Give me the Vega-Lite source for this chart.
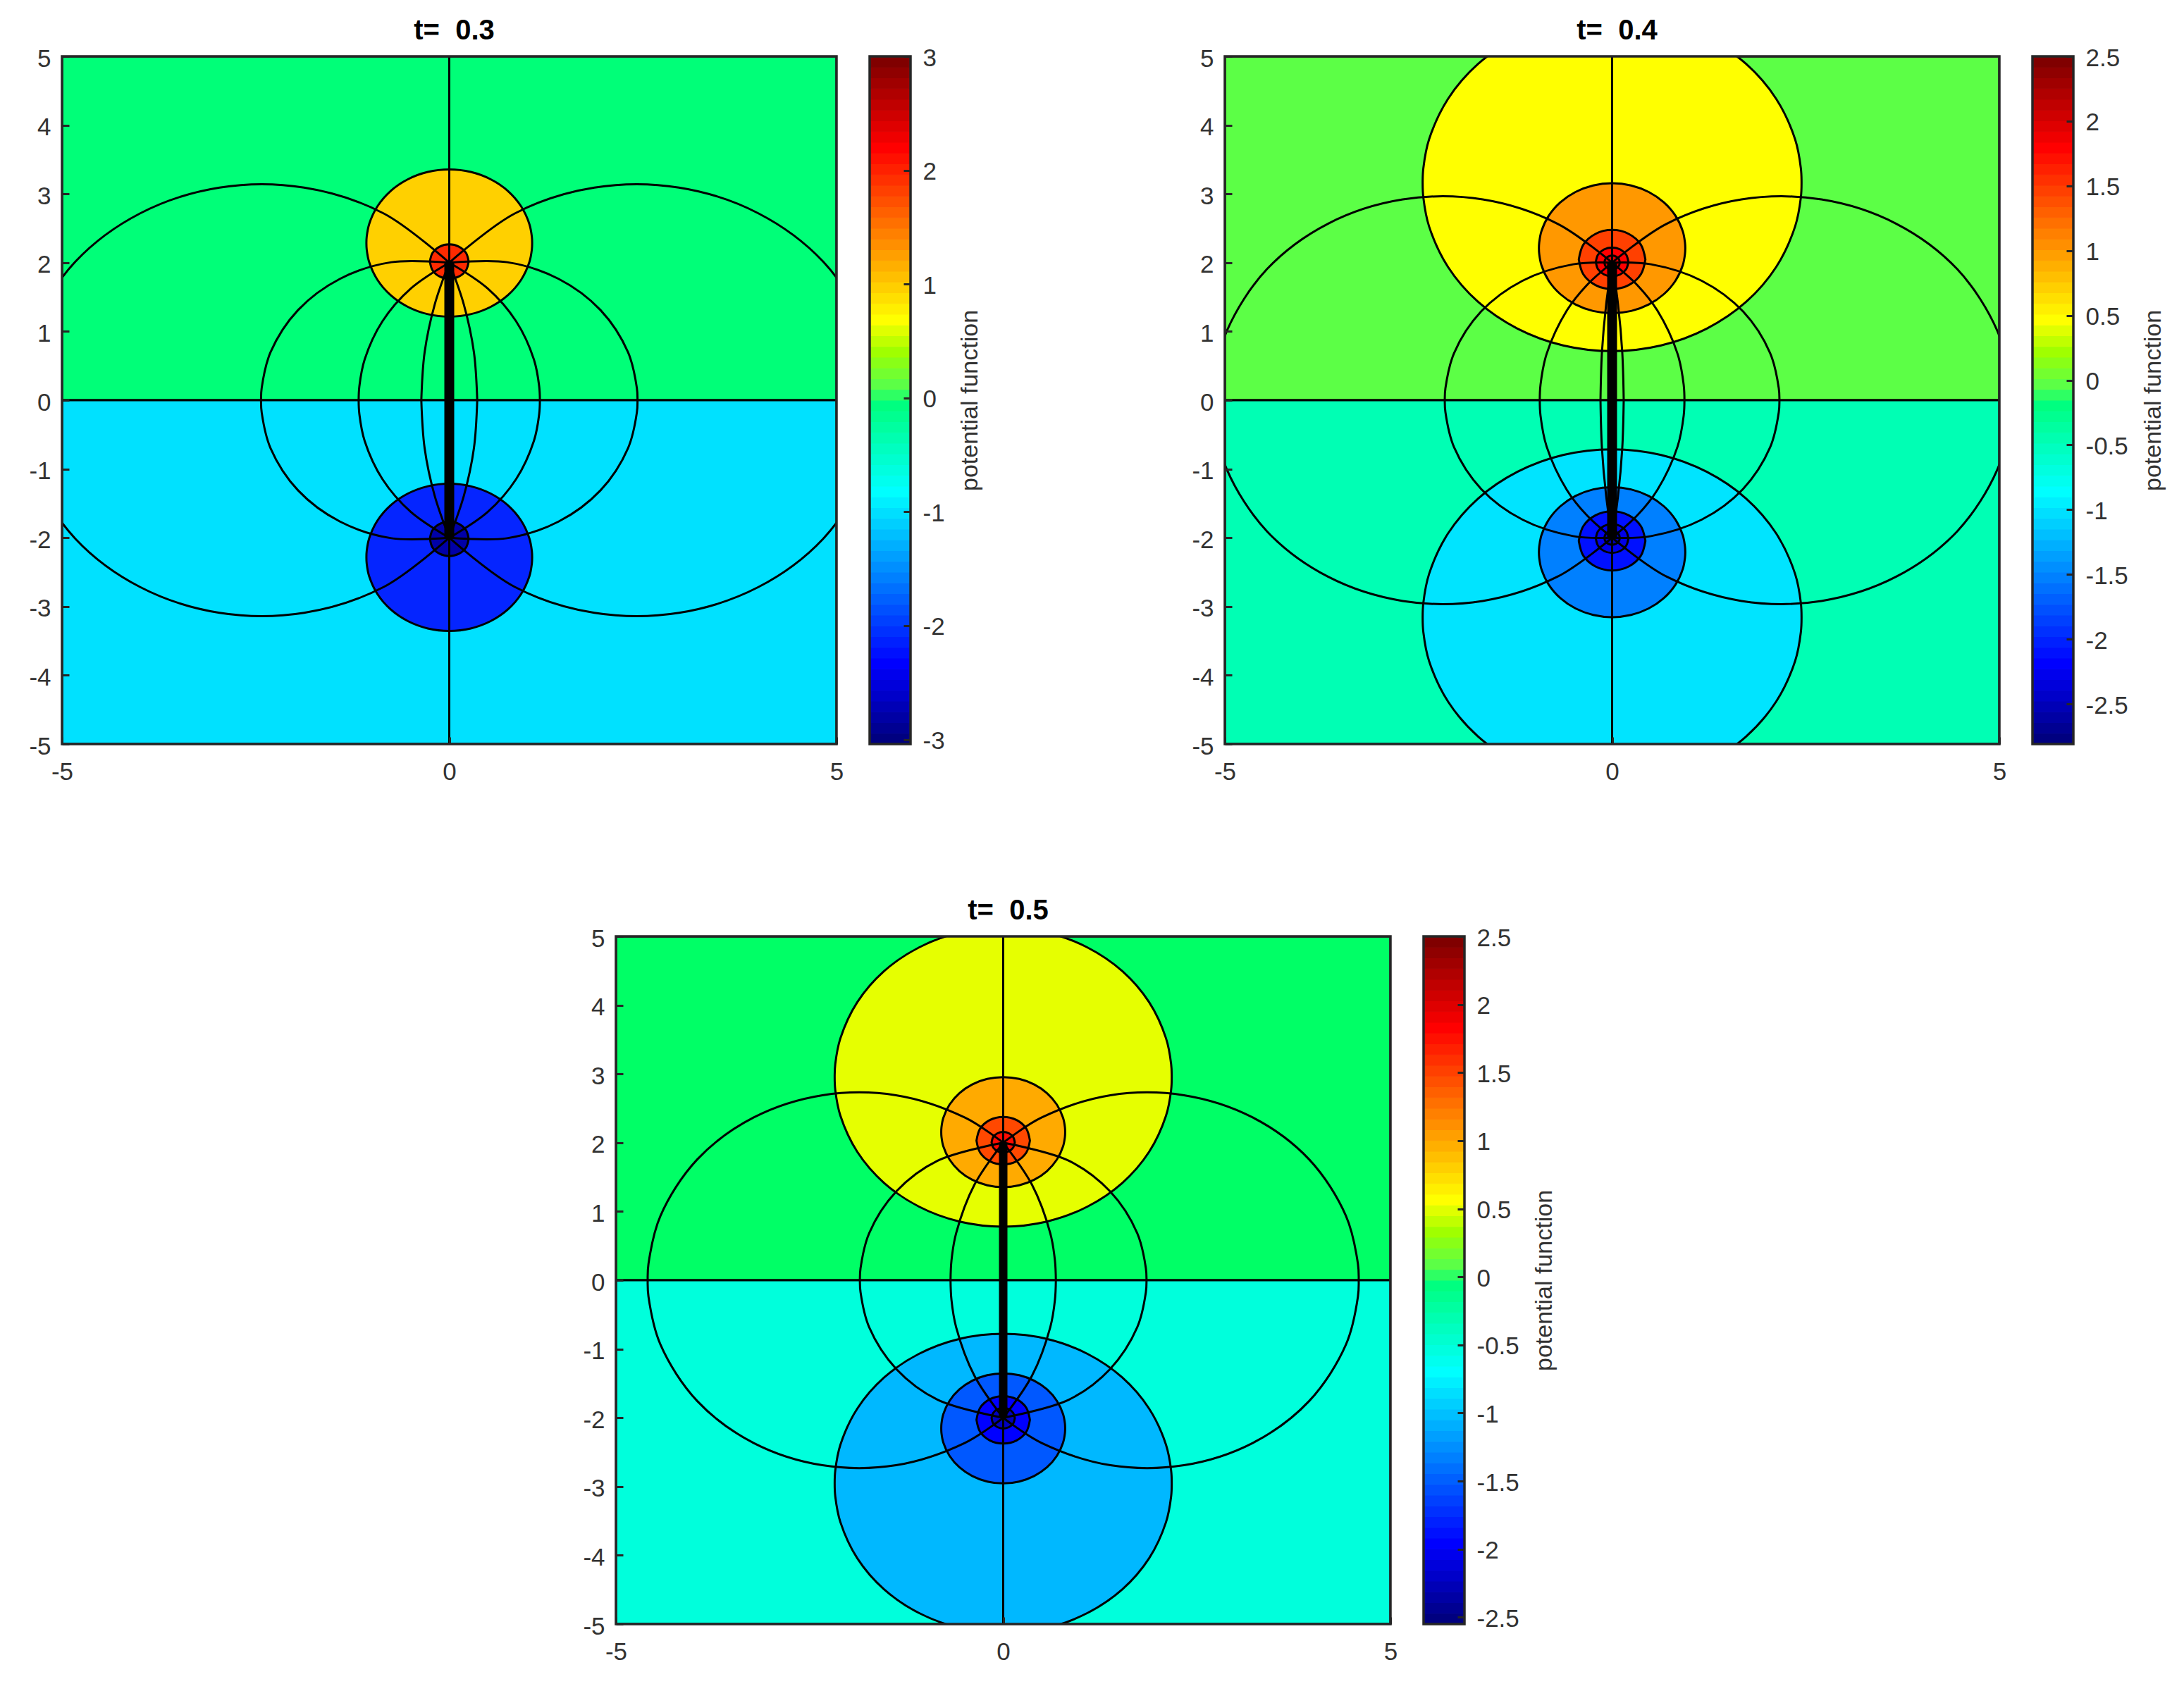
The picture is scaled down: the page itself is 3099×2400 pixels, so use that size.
{
"$schema":"https://vega.github.io/schema/vega-lite/v6.json",
"background":"white",
"padding":{"left":40,"top":24,"right":5,"bottom":5},
"config":{
"view":{"stroke":null},
"title":{"font":"Liberation Sans","fontSize":40,"fontWeight":"bold","color":"#000000","offset":2,"dx":7},
"axis":{"labelFont":"Liberation Sans","labelFontSize":35,"labelColor":"#333333","titleFont":"Liberation Sans","titleFontSize":34,"titleFontWeight":"normal","titleColor":"#333333","tickColor":"#262626","tickSize":-10,"tickWidth":3,"domain":false,"grid":false,"labelFlush":false,"labelOverlap":false}
},
"datasets":{
"ticks":[{"y":-5},{"y":-4},{"y":-3},{"y":-2},{"y":-1},{"y":0},{"y":1},{"y":2},{"y":3},{"y":4},{"y":5}],
"jet":[{"i":1},{"i":2},{"i":3},{"i":4},{"i":5},{"i":6},{"i":7},{"i":8},{"i":9},{"i":10},{"i":11},{"i":12},{"i":13},{"i":14},{"i":15},{"i":16},{"i":17},{"i":18},{"i":19},{"i":20},{"i":21},{"i":22},{"i":23},{"i":24},{"i":25},{"i":26},{"i":27},{"i":28},{"i":29},{"i":30},{"i":31},{"i":32},{"i":33},{"i":34},{"i":35},{"i":36},{"i":37},{"i":38},{"i":39},{"i":40},{"i":41},{"i":42},{"i":43},{"i":44},{"i":45},{"i":46},{"i":47},{"i":48},{"i":49},{"i":50},{"i":51},{"i":52},{"i":53},{"i":54},{"i":55},{"i":56},{"i":57},{"i":58},{"i":59},{"i":60},{"i":61},{"i":62},{"i":63},{"i":64}],
"p1_levels":[
{"id":"up","x":-5,"y":5,"y2":0},{"id":"up","x":5,"y":5,"y2":0},
{"id":"low","x":-5,"y":0,"y2":-5},{"id":"low","x":5,"y":0,"y2":-5},
{"id":"u1","x":-1.07,"y":2.285,"y2":2.285},{"id":"u1","x":-1.066,"y":2.378,"y2":2.192},{"id":"u1","x":-1.034,"y":2.562,"y2":2.008},{"id":"u1","x":-0.927,"y":2.82,"y2":1.75},{"id":"u1","x":-0.757,"y":3.042,"y2":1.528},{"id":"u1","x":-0.535,"y":3.212,"y2":1.358},{"id":"u1","x":-0.277,"y":3.319,"y2":1.251},{"id":"u1","x":0,"y":3.355,"y2":1.215},{"id":"u1","x":0.277,"y":3.319,"y2":1.251},{"id":"u1","x":0.535,"y":3.212,"y2":1.358},{"id":"u1","x":0.757,"y":3.042,"y2":1.528},{"id":"u1","x":0.927,"y":2.82,"y2":1.75},{"id":"u1","x":1.034,"y":2.562,"y2":2.008},{"id":"u1","x":1.066,"y":2.378,"y2":2.192},{"id":"u1","x":1.07,"y":2.285,"y2":2.285},
{"id":"u2","x":-0.25,"y":2.016,"y2":2.016},{"id":"u2","x":-0.217,"y":2.141,"y2":1.891},{"id":"u2","x":-0.125,"y":2.233,"y2":1.799},{"id":"u2","x":0,"y":2.266,"y2":1.766},{"id":"u2","x":0.125,"y":2.233,"y2":1.799},{"id":"u2","x":0.217,"y":2.141,"y2":1.891},{"id":"u2","x":0.25,"y":2.016,"y2":2.016},
{"id":"d1","x":-1.07,"y":-2.285,"y2":-2.285},{"id":"d1","x":-1.066,"y":-2.192,"y2":-2.378},{"id":"d1","x":-1.034,"y":-2.008,"y2":-2.562},{"id":"d1","x":-0.927,"y":-1.75,"y2":-2.82},{"id":"d1","x":-0.757,"y":-1.528,"y2":-3.042},{"id":"d1","x":-0.535,"y":-1.358,"y2":-3.212},{"id":"d1","x":-0.277,"y":-1.251,"y2":-3.319},{"id":"d1","x":0,"y":-1.215,"y2":-3.355},{"id":"d1","x":0.277,"y":-1.251,"y2":-3.319},{"id":"d1","x":0.535,"y":-1.358,"y2":-3.212},{"id":"d1","x":0.757,"y":-1.528,"y2":-3.042},{"id":"d1","x":0.927,"y":-1.75,"y2":-2.82},{"id":"d1","x":1.034,"y":-2.008,"y2":-2.562},{"id":"d1","x":1.066,"y":-2.192,"y2":-2.378},{"id":"d1","x":1.07,"y":-2.285,"y2":-2.285},
{"id":"d2","x":-0.25,"y":-2.016,"y2":-2.016},{"id":"d2","x":-0.217,"y":-1.891,"y2":-2.141},{"id":"d2","x":-0.125,"y":-1.799,"y2":-2.233},{"id":"d2","x":0,"y":-1.766,"y2":-2.266},{"id":"d2","x":0.125,"y":-1.799,"y2":-2.233},{"id":"d2","x":0.217,"y":-1.891,"y2":-2.141},{"id":"d2","x":0.25,"y":-2.016,"y2":-2.016}
],
"p1_arcs":[
{"id":"L1","x":-5.559,"y":0,"y2":0},{"id":"L1","x":-5.547,"y":0.274,"y2":-0.274},{"id":"L1","x":-5.371,"y":1.074,"y2":-1.074},{"id":"L1","x":-4.825,"y":2.018,"y2":-2.018},{"id":"L1","x":-3.99,"y":2.718,"y2":-2.718},{"id":"L1","x":-2.966,"y":3.092,"y2":-3.092},{"id":"L1","x":-1.874,"y":3.092,"y2":-3.092},{"id":"L1","x":-0.85,"y":2.718,"y2":-2.718},{"id":"L1","x":0,"y":2,"y2":-2},
{"id":"R1","x":5.559,"y":0,"y2":0},{"id":"R1","x":5.547,"y":0.274,"y2":-0.274},{"id":"R1","x":5.371,"y":1.074,"y2":-1.074},{"id":"R1","x":4.825,"y":2.018,"y2":-2.018},{"id":"R1","x":3.99,"y":2.718,"y2":-2.718},{"id":"R1","x":2.966,"y":3.092,"y2":-3.092},{"id":"R1","x":1.874,"y":3.092,"y2":-3.092},{"id":"R1","x":0.85,"y":2.718,"y2":-2.718},{"id":"R1","x":0,"y":2,"y2":-2},
{"id":"L2","x":-2.43,"y":0,"y2":0},{"id":"L2","x":-2.422,"y":0.178,"y2":-0.178},{"id":"L2","x":-2.308,"y":0.697,"y2":-0.697},{"id":"L2","x":-1.953,"y":1.31,"y2":-1.31},{"id":"L2","x":-1.411,"y":1.765,"y2":-1.765},{"id":"L2","x":-0.747,"y":2.007,"y2":-2.007},{"id":"L2","x":0,"y":2,"y2":-2},
{"id":"R2","x":2.43,"y":0,"y2":0},{"id":"R2","x":2.422,"y":0.178,"y2":-0.178},{"id":"R2","x":2.308,"y":0.697,"y2":-0.697},{"id":"R2","x":1.953,"y":1.31,"y2":-1.31},{"id":"R2","x":1.411,"y":1.765,"y2":-1.765},{"id":"R2","x":0.747,"y":2.007,"y2":-2.007},{"id":"R2","x":0,"y":2,"y2":-2},
{"id":"L3","x":-1.17,"y":0,"y2":0},{"id":"L3","x":-1.161,"y":0.2,"y2":-0.2},{"id":"L3","x":-1.092,"y":0.594,"y2":-0.594},{"id":"L3","x":-0.863,"y":1.147,"y2":-1.147},{"id":"L3","x":-0.498,"y":1.622,"y2":-1.622},{"id":"L3","x":0,"y":2,"y2":-2},
{"id":"R3","x":1.17,"y":0,"y2":0},{"id":"R3","x":1.161,"y":0.2,"y2":-0.2},{"id":"R3","x":1.092,"y":0.594,"y2":-0.594},{"id":"R3","x":0.863,"y":1.147,"y2":-1.147},{"id":"R3","x":0.498,"y":1.622,"y2":-1.622},{"id":"R3","x":0,"y":2,"y2":-2},
{"id":"L4","x":-0.361,"y":0,"y2":0},{"id":"L4","x":-0.318,"y":0.7,"y2":-0.7},{"id":"L4","x":-0.189,"y":1.388,"y2":-1.388},{"id":"L4","x":0,"y":2,"y2":-2},
{"id":"R4","x":0.361,"y":0,"y2":0},{"id":"R4","x":0.318,"y":0.7,"y2":-0.7},{"id":"R4","x":0.189,"y":1.388,"y2":-1.388},{"id":"R4","x":0,"y":2,"y2":-2}
],
"p2_levels":[
{"id":"up","x":-5,"y":5,"y2":0},{"id":"up","x":5,"y":5,"y2":0},
{"id":"low","x":-5,"y":0,"y2":-5},{"id":"low","x":5,"y":0,"y2":-5},
{"id":"u1","x":-2.446,"y":3.16,"y2":3.16},{"id":"u1","x":-2.437,"y":3.373,"y2":2.947},{"id":"u1","x":-2.363,"y":3.793,"y2":2.527},{"id":"u1","x":-2.118,"y":4.383,"y2":1.937},{"id":"u1","x":-1.73,"y":4.89,"y2":1.43},{"id":"u1","x":-1.223,"y":5.278,"y2":1.042},{"id":"u1","x":-0.633,"y":5.523,"y2":0.797},{"id":"u1","x":0,"y":5.606,"y2":0.714},{"id":"u1","x":0.633,"y":5.523,"y2":0.797},{"id":"u1","x":1.223,"y":5.278,"y2":1.042},{"id":"u1","x":1.73,"y":4.89,"y2":1.43},{"id":"u1","x":2.118,"y":4.383,"y2":1.937},{"id":"u1","x":2.363,"y":3.793,"y2":2.527},{"id":"u1","x":2.437,"y":3.373,"y2":2.947},{"id":"u1","x":2.446,"y":3.16,"y2":3.16},
{"id":"d1","x":-2.446,"y":-3.16,"y2":-3.16},{"id":"d1","x":-2.437,"y":-2.947,"y2":-3.373},{"id":"d1","x":-2.363,"y":-2.527,"y2":-3.793},{"id":"d1","x":-2.118,"y":-1.937,"y2":-4.383},{"id":"d1","x":-1.73,"y":-1.43,"y2":-4.89},{"id":"d1","x":-1.223,"y":-1.042,"y2":-5.278},{"id":"d1","x":-0.633,"y":-0.797,"y2":-5.523},{"id":"d1","x":0,"y":-0.714,"y2":-5.606},{"id":"d1","x":0.633,"y":-0.797,"y2":-5.523},{"id":"d1","x":1.223,"y":-1.042,"y2":-5.278},{"id":"d1","x":1.73,"y":-1.43,"y2":-4.89},{"id":"d1","x":2.118,"y":-1.937,"y2":-4.383},{"id":"d1","x":2.363,"y":-2.527,"y2":-3.793},{"id":"d1","x":2.437,"y":-2.947,"y2":-3.373},{"id":"d1","x":2.446,"y":-3.16,"y2":-3.16},
{"id":"u2","x":-0.945,"y":2.21,"y2":2.21},{"id":"u2","x":-0.941,"y":2.292,"y2":2.128},{"id":"u2","x":-0.913,"y":2.455,"y2":1.965},{"id":"u2","x":-0.818,"y":2.683,"y2":1.737},{"id":"u2","x":-0.668,"y":2.878,"y2":1.542},{"id":"u2","x":-0.473,"y":3.028,"y2":1.392},{"id":"u2","x":-0.245,"y":3.123,"y2":1.297},{"id":"u2","x":0,"y":3.155,"y2":1.265},{"id":"u2","x":0.245,"y":3.123,"y2":1.297},{"id":"u2","x":0.473,"y":3.028,"y2":1.392},{"id":"u2","x":0.668,"y":2.878,"y2":1.542},{"id":"u2","x":0.818,"y":2.683,"y2":1.737},{"id":"u2","x":0.913,"y":2.455,"y2":1.965},{"id":"u2","x":0.941,"y":2.292,"y2":2.128},{"id":"u2","x":0.945,"y":2.21,"y2":2.21},
{"id":"d2","x":-0.945,"y":-2.21,"y2":-2.21},{"id":"d2","x":-0.941,"y":-2.128,"y2":-2.292},{"id":"d2","x":-0.913,"y":-1.965,"y2":-2.455},{"id":"d2","x":-0.818,"y":-1.737,"y2":-2.683},{"id":"d2","x":-0.668,"y":-1.542,"y2":-2.878},{"id":"d2","x":-0.473,"y":-1.392,"y2":-3.028},{"id":"d2","x":-0.245,"y":-1.297,"y2":-3.123},{"id":"d2","x":0,"y":-1.265,"y2":-3.155},{"id":"d2","x":0.245,"y":-1.297,"y2":-3.123},{"id":"d2","x":0.473,"y":-1.392,"y2":-3.028},{"id":"d2","x":0.668,"y":-1.542,"y2":-2.878},{"id":"d2","x":0.818,"y":-1.737,"y2":-2.683},{"id":"d2","x":0.913,"y":-1.965,"y2":-2.455},{"id":"d2","x":0.941,"y":-2.128,"y2":-2.292},{"id":"d2","x":0.945,"y":-2.21,"y2":-2.21},
{"id":"u3","x":-0.43,"y":2.046,"y2":2.046},{"id":"u3","x":-0.372,"y":2.261,"y2":1.831},{"id":"u3","x":-0.215,"y":2.418,"y2":1.674},{"id":"u3","x":0,"y":2.476,"y2":1.616},{"id":"u3","x":0.215,"y":2.418,"y2":1.674},{"id":"u3","x":0.372,"y":2.261,"y2":1.831},{"id":"u3","x":0.43,"y":2.046,"y2":2.046},
{"id":"d3","x":-0.43,"y":-2.046,"y2":-2.046},{"id":"d3","x":-0.372,"y":-1.831,"y2":-2.261},{"id":"d3","x":-0.215,"y":-1.674,"y2":-2.418},{"id":"d3","x":0,"y":-1.616,"y2":-2.476},{"id":"d3","x":0.215,"y":-1.674,"y2":-2.418},{"id":"d3","x":0.372,"y":-1.831,"y2":-2.261},{"id":"d3","x":0.43,"y":-2.046,"y2":-2.046},
{"id":"u4","x":-0.21,"y":2.011,"y2":2.011},{"id":"u4","x":-0.182,"y":2.116,"y2":1.906},{"id":"u4","x":-0.105,"y":2.193,"y2":1.829},{"id":"u4","x":0,"y":2.221,"y2":1.801},{"id":"u4","x":0.105,"y":2.193,"y2":1.829},{"id":"u4","x":0.182,"y":2.116,"y2":1.906},{"id":"u4","x":0.21,"y":2.011,"y2":2.011},
{"id":"d4","x":-0.21,"y":-2.011,"y2":-2.011},{"id":"d4","x":-0.182,"y":-1.906,"y2":-2.116},{"id":"d4","x":-0.105,"y":-1.829,"y2":-2.193},{"id":"d4","x":0,"y":-1.801,"y2":-2.221},{"id":"d4","x":0.105,"y":-1.829,"y2":-2.193},{"id":"d4","x":0.182,"y":-1.906,"y2":-2.116},{"id":"d4","x":0.21,"y":-2.011,"y2":-2.011},
{"id":"u5","x":-0.1,"y":2.002,"y2":2.002},{"id":"u5","x":-0.087,"y":2.052,"y2":1.952},{"id":"u5","x":-0.05,"y":2.089,"y2":1.915},{"id":"u5","x":0,"y":2.102,"y2":1.902},{"id":"u5","x":0.05,"y":2.089,"y2":1.915},{"id":"u5","x":0.087,"y":2.052,"y2":1.952},{"id":"u5","x":0.1,"y":2.002,"y2":2.002},
{"id":"d5","x":-0.1,"y":-2.002,"y2":-2.002},{"id":"d5","x":-0.087,"y":-1.952,"y2":-2.052},{"id":"d5","x":-0.05,"y":-1.915,"y2":-2.089},{"id":"d5","x":0,"y":-1.902,"y2":-2.102},{"id":"d5","x":0.05,"y":-1.915,"y2":-2.089},{"id":"d5","x":0.087,"y":-1.952,"y2":-2.052},{"id":"d5","x":0.1,"y":-2.002,"y2":-2.002}
],
"p2_arcs":[
{"id":"L1","x":-5.15,"y":0,"y2":0},{"id":"L1","x":-5.139,"y":0.258,"y2":-0.258},{"id":"L1","x":-4.972,"y":1.013,"y2":-1.013},{"id":"L1","x":-4.457,"y":1.905,"y2":-1.905},{"id":"L1","x":-3.669,"y":2.566,"y2":-2.566},{"id":"L1","x":-2.703,"y":2.919,"y2":-2.919},{"id":"L1","x":-1.671,"y":2.919,"y2":-2.919},{"id":"L1","x":-0.705,"y":2.566,"y2":-2.566},{"id":"L1","x":0,"y":2,"y2":-2},
{"id":"R1","x":5.15,"y":0,"y2":0},{"id":"R1","x":5.139,"y":0.258,"y2":-0.258},{"id":"R1","x":4.972,"y":1.013,"y2":-1.013},{"id":"R1","x":4.457,"y":1.905,"y2":-1.905},{"id":"R1","x":3.669,"y":2.566,"y2":-2.566},{"id":"R1","x":2.703,"y":2.919,"y2":-2.919},{"id":"R1","x":1.671,"y":2.919,"y2":-2.919},{"id":"R1","x":0.705,"y":2.566,"y2":-2.566},{"id":"R1","x":0,"y":2,"y2":-2},
{"id":"L2","x":-2.16,"y":0,"y2":0},{"id":"L2","x":-2.152,"y":0.175,"y2":-0.175},{"id":"L2","x":-2.04,"y":0.686,"y2":-0.686},{"id":"L2","x":-1.691,"y":1.29,"y2":-1.29},{"id":"L2","x":-1.157,"y":1.737,"y2":-1.737},{"id":"L2","x":-0.503,"y":1.976,"y2":-1.976},{"id":"L2","x":0,"y":2,"y2":-2},
{"id":"R2","x":2.16,"y":0,"y2":0},{"id":"R2","x":2.152,"y":0.175,"y2":-0.175},{"id":"R2","x":2.04,"y":0.686,"y2":-0.686},{"id":"R2","x":1.691,"y":1.29,"y2":-1.29},{"id":"R2","x":1.157,"y":1.737,"y2":-1.737},{"id":"R2","x":0.503,"y":1.976,"y2":-1.976},{"id":"R2","x":0,"y":2,"y2":-2},
{"id":"L3","x":-0.934,"y":0,"y2":0},{"id":"L3","x":-0.924,"y":0.227,"y2":-0.227},{"id":"L3","x":-0.845,"y":0.675,"y2":-0.675},{"id":"L3","x":-0.585,"y":1.303,"y2":-1.303},{"id":"L3","x":-0.324,"y":1.676,"y2":-1.676},{"id":"L3","x":0,"y":2,"y2":-2},
{"id":"R3","x":0.934,"y":0,"y2":0},{"id":"R3","x":0.924,"y":0.227,"y2":-0.227},{"id":"R3","x":0.845,"y":0.675,"y2":-0.675},{"id":"R3","x":0.585,"y":1.303,"y2":-1.303},{"id":"R3","x":0.324,"y":1.676,"y2":-1.676},{"id":"R3","x":0,"y":2,"y2":-2},
{"id":"L4","x":-0.15,"y":0,"y2":0},{"id":"L4","x":-0.131,"y":0.7,"y2":-0.7},{"id":"L4","x":-0.076,"y":1.4,"y2":-1.4},{"id":"L4","x":0,"y":2,"y2":-2},
{"id":"R4","x":0.15,"y":0,"y2":0},{"id":"R4","x":0.131,"y":0.7,"y2":-0.7},{"id":"R4","x":0.076,"y":1.4,"y2":-1.4},{"id":"R4","x":0,"y":2,"y2":-2}
],
"p3_levels":[
{"id":"up","x":-5,"y":5,"y2":0},{"id":"up","x":5,"y":5,"y2":0},
{"id":"low","x":-5,"y":0,"y2":-5},{"id":"low","x":5,"y":0,"y2":-5},
{"id":"u1","x":-2.176,"y":2.955,"y2":2.955},{"id":"u1","x":-2.168,"y":3.145,"y2":2.765},{"id":"u1","x":-2.102,"y":3.518,"y2":2.392},{"id":"u1","x":-1.884,"y":4.043,"y2":1.867},{"id":"u1","x":-1.539,"y":4.494,"y2":1.416},{"id":"u1","x":-1.088,"y":4.839,"y2":1.071},{"id":"u1","x":-0.563,"y":5.057,"y2":0.853},{"id":"u1","x":0,"y":5.131,"y2":0.779},{"id":"u1","x":0.563,"y":5.057,"y2":0.853},{"id":"u1","x":1.088,"y":4.839,"y2":1.071},{"id":"u1","x":1.539,"y":4.494,"y2":1.416},{"id":"u1","x":1.884,"y":4.043,"y2":1.867},{"id":"u1","x":2.102,"y":3.518,"y2":2.392},{"id":"u1","x":2.168,"y":3.145,"y2":2.765},{"id":"u1","x":2.176,"y":2.955,"y2":2.955},
{"id":"d1","x":-2.176,"y":-2.955,"y2":-2.955},{"id":"d1","x":-2.168,"y":-2.765,"y2":-3.145},{"id":"d1","x":-2.102,"y":-2.392,"y2":-3.518},{"id":"d1","x":-1.884,"y":-1.867,"y2":-4.043},{"id":"d1","x":-1.539,"y":-1.416,"y2":-4.494},{"id":"d1","x":-1.088,"y":-1.071,"y2":-4.839},{"id":"d1","x":-0.563,"y":-0.853,"y2":-5.057},{"id":"d1","x":0,"y":-0.779,"y2":-5.131},{"id":"d1","x":0.563,"y":-0.853,"y2":-5.057},{"id":"d1","x":1.088,"y":-1.071,"y2":-4.839},{"id":"d1","x":1.539,"y":-1.416,"y2":-4.494},{"id":"d1","x":1.884,"y":-1.867,"y2":-4.043},{"id":"d1","x":2.102,"y":-2.392,"y2":-3.518},{"id":"d1","x":2.168,"y":-2.765,"y2":-3.145},{"id":"d1","x":2.176,"y":-2.955,"y2":-2.955},
{"id":"u2","x":-0.8,"y":2.154,"y2":2.154},{"id":"u2","x":-0.797,"y":2.224,"y2":2.084},{"id":"u2","x":-0.773,"y":2.361,"y2":1.947},{"id":"u2","x":-0.693,"y":2.554,"y2":1.754},{"id":"u2","x":-0.566,"y":2.72,"y2":1.588},{"id":"u2","x":-0.4,"y":2.847,"y2":1.461},{"id":"u2","x":-0.207,"y":2.927,"y2":1.381},{"id":"u2","x":0,"y":2.954,"y2":1.354},{"id":"u2","x":0.207,"y":2.927,"y2":1.381},{"id":"u2","x":0.4,"y":2.847,"y2":1.461},{"id":"u2","x":0.566,"y":2.72,"y2":1.588},{"id":"u2","x":0.693,"y":2.554,"y2":1.754},{"id":"u2","x":0.773,"y":2.361,"y2":1.947},{"id":"u2","x":0.797,"y":2.224,"y2":2.084},{"id":"u2","x":0.8,"y":2.154,"y2":2.154},
{"id":"d2","x":-0.8,"y":-2.154,"y2":-2.154},{"id":"d2","x":-0.797,"y":-2.084,"y2":-2.224},{"id":"d2","x":-0.773,"y":-1.947,"y2":-2.361},{"id":"d2","x":-0.693,"y":-1.754,"y2":-2.554},{"id":"d2","x":-0.566,"y":-1.588,"y2":-2.72},{"id":"d2","x":-0.4,"y":-1.461,"y2":-2.847},{"id":"d2","x":-0.207,"y":-1.381,"y2":-2.927},{"id":"d2","x":0,"y":-1.354,"y2":-2.954},{"id":"d2","x":0.207,"y":-1.381,"y2":-2.927},{"id":"d2","x":0.4,"y":-1.461,"y2":-2.847},{"id":"d2","x":0.566,"y":-1.588,"y2":-2.72},{"id":"d2","x":0.693,"y":-1.754,"y2":-2.554},{"id":"d2","x":0.773,"y":-1.947,"y2":-2.361},{"id":"d2","x":0.797,"y":-2.084,"y2":-2.224},{"id":"d2","x":0.8,"y":-2.154,"y2":-2.154},
{"id":"u3","x":-0.345,"y":2.03,"y2":2.03},{"id":"u3","x":-0.299,"y":2.203,"y2":1.857},{"id":"u3","x":-0.173,"y":2.329,"y2":1.731},{"id":"u3","x":0,"y":2.375,"y2":1.685},{"id":"u3","x":0.173,"y":2.329,"y2":1.731},{"id":"u3","x":0.299,"y":2.203,"y2":1.857},{"id":"u3","x":0.345,"y":2.03,"y2":2.03},
{"id":"d3","x":-0.345,"y":-2.03,"y2":-2.03},{"id":"d3","x":-0.299,"y":-1.857,"y2":-2.203},{"id":"d3","x":-0.173,"y":-1.731,"y2":-2.329},{"id":"d3","x":0,"y":-1.685,"y2":-2.375},{"id":"d3","x":0.173,"y":-1.731,"y2":-2.329},{"id":"d3","x":0.299,"y":-1.857,"y2":-2.203},{"id":"d3","x":0.345,"y":-2.03,"y2":-2.03},
{"id":"u4","x":-0.15,"y":2.006,"y2":2.006},{"id":"u4","x":-0.13,"y":2.081,"y2":1.931},{"id":"u4","x":-0.075,"y":2.136,"y2":1.876},{"id":"u4","x":0,"y":2.156,"y2":1.856},{"id":"u4","x":0.075,"y":2.136,"y2":1.876},{"id":"u4","x":0.13,"y":2.081,"y2":1.931},{"id":"u4","x":0.15,"y":2.006,"y2":2.006},
{"id":"d4","x":-0.15,"y":-2.006,"y2":-2.006},{"id":"d4","x":-0.13,"y":-1.931,"y2":-2.081},{"id":"d4","x":-0.075,"y":-1.876,"y2":-2.136},{"id":"d4","x":0,"y":-1.856,"y2":-2.156},{"id":"d4","x":0.075,"y":-1.876,"y2":-2.136},{"id":"d4","x":0.13,"y":-1.931,"y2":-2.081},{"id":"d4","x":0.15,"y":-2.006,"y2":-2.006}
],
"p3_arcs":[
{"id":"L1","x":-4.59,"y":0,"y2":0},{"id":"L1","x":-4.58,"y":0.238,"y2":-0.238},{"id":"L1","x":-4.426,"y":0.934,"y2":-0.934},{"id":"L1","x":-3.951,"y":1.756,"y2":-1.756},{"id":"L1","x":-3.225,"y":2.365,"y2":-2.365},{"id":"L1","x":-2.334,"y":2.69,"y2":-2.69},{"id":"L1","x":-1.384,"y":2.69,"y2":-2.69},{"id":"L1","x":-0.494,"y":2.365,"y2":-2.365},{"id":"L1","x":0,"y":2,"y2":-2},
{"id":"R1","x":4.59,"y":0,"y2":0},{"id":"R1","x":4.58,"y":0.238,"y2":-0.238},{"id":"R1","x":4.426,"y":0.934,"y2":-0.934},{"id":"R1","x":3.951,"y":1.756,"y2":-1.756},{"id":"R1","x":3.225,"y":2.365,"y2":-2.365},{"id":"R1","x":2.334,"y":2.69,"y2":-2.69},{"id":"R1","x":1.384,"y":2.69,"y2":-2.69},{"id":"R1","x":0.494,"y":2.365,"y2":-2.365},{"id":"R1","x":0,"y":2,"y2":-2},
{"id":"L2","x":-1.85,"y":0,"y2":0},{"id":"L2","x":-1.842,"y":0.175,"y2":-0.175},{"id":"L2","x":-1.73,"y":0.686,"y2":-0.686},{"id":"L2","x":-1.381,"y":1.29,"y2":-1.29},{"id":"L2","x":-0.847,"y":1.737,"y2":-1.737},{"id":"L2","x":0,"y":2,"y2":-2},
{"id":"R2","x":1.85,"y":0,"y2":0},{"id":"R2","x":1.842,"y":0.175,"y2":-0.175},{"id":"R2","x":1.73,"y":0.686,"y2":-0.686},{"id":"R2","x":1.381,"y":1.29,"y2":-1.29},{"id":"R2","x":0.847,"y":1.737,"y2":-1.737},{"id":"R2","x":0,"y":2,"y2":-2},
{"id":"L3","x":-0.68,"y":0,"y2":0},{"id":"L3","x":-0.668,"y":0.286,"y2":-0.286},{"id":"L3","x":-0.608,"y":0.682,"y2":-0.682},{"id":"L3","x":-0.372,"y":1.388,"y2":-1.388},{"id":"L3","x":0,"y":2,"y2":-2},
{"id":"R3","x":0.68,"y":0,"y2":0},{"id":"R3","x":0.668,"y":0.286,"y2":-0.286},{"id":"R3","x":0.608,"y":0.682,"y2":-0.682},{"id":"R3","x":0.372,"y":1.388,"y2":-1.388},{"id":"R3","x":0,"y":2,"y2":-2}
]
},
"vconcat":[
{"hconcat":[
{"hconcat":[
{"width":1099,"height":976,"title":"t=\u00a0\u00a00.3",
"encoding":{"x":{"field":"x","type":"quantitative","scale":{"domain":[-5,5],"nice":false,"zero":false},"axis":{"values":[-5,0,5],"title":null,"labelExpr":"''+datum.value","labelPadding":32,"zindex":1}},"y":{"field":"y","type":"quantitative","stack":null,"scale":{"domain":[-5,5],"nice":false,"zero":false},"axis":{"values":[-5,-4,-3,-2,-1,0,1,2,3,4,5],"title":null,"labelExpr":"''+datum.value","labelPadding":26,"labelOffset":3,"zindex":1}}},
"layer":[
{"data":{"name":"p1_levels"},"mark":{"type":"area","orient":"vertical","clip":true,"interpolate":"catmull-rom","stroke":"black","strokeWidth":3},"encoding":{"y2":{"field":"y2"},"detail":{"field":"id"},"fill":{"field":"id","type":"nominal","legend":null,"scale":{"domain":["up","low","u1","u2","d1","d2"],"range":["#00ff78","#00e1ff","#ffd000","#ff2a00","#0525ff","#0000a8"]}}}},
{"data":{"name":"p1_arcs"},"mark":{"type":"area","orient":"vertical","clip":true,"interpolate":"catmull-rom","fillOpacity":0,"stroke":"black","strokeWidth":3},"encoding":{"y2":{"field":"y2"},"detail":{"field":"id"}}},
{"data":{"values":[{"x":0,"y":-5,"y2":5}]},"mark":{"type":"rule","color":"black","strokeWidth":3},"encoding":{"y2":{"field":"y2"}}},
{"data":{"values":[{"x":0,"y":-2,"y2":2}]},"mark":{"type":"rule","color":"black","strokeWidth":14},"encoding":{"y2":{"field":"y2"}}},
{"data":{"name":"ticks"},"mark":{"type":"tick","orient":"horizontal","clip":true,"size":20,"thickness":3,"color":"#262626"},"encoding":{"x":{"datum":5}}},
{"data":{"values":[{"x":-5,"x2":5,"y":-5,"y2":5}]},"mark":{"type":"rect","fillOpacity":0,"stroke":"#262626","strokeWidth":3.5},"encoding":{"x2":{"field":"x2"},"y2":{"field":"y2"}}}
]},
{"width":58,"height":976,
"layer":[
{"data":{"name":"jet"},"mark":{"type":"rect","strokeWidth":1},"encoding":{"y":{"field":"i","type":"ordinal","sort":"descending","axis":null,"scale":{"paddingInner":0,"paddingOuter":0}},"fill":{"field":"i","type":"quantitative","legend":null,"scale":{"domain":[1,8,24,32,34,37,40,56,64],"range":["#000080","#0000ff","#00ffff","#00ff80","#5cff46","#a0ff00","#ffff00","#ff0000","#800000"],"interpolate":"rgb"}},"stroke":{"field":"i","type":"quantitative","legend":null,"scale":{"domain":[1,8,24,32,34,37,40,56,64],"range":["#000080","#0000ff","#00ffff","#00ff80","#5cff46","#a0ff00","#ffff00","#ff0000","#800000"],"interpolate":"rgb"}}}},
{"data":{"values":[{"v":0}]},"mark":{"type":"rect","fillOpacity":0,"stroke":"#262626","strokeWidth":3.5}},
{"data":{"values":[{"v":-3},{"v":3}]},"mark":{"type":"rule","opacity":0},"encoding":{"y":{"field":"v","type":"quantitative","scale":{"domain":[-3.04,3],"nice":false,"zero":false},"axis":{"orient":"right","values":[-3,-2,-1,0,1,2,3],"title":"potential function","titleAngle":270,"titlePadding":53,"labelExpr":"''+datum.value","labelPadding":27,"labelOffset":2,"zindex":1}}}}
],"resolve":{"scale":{"y":"independent"}}}
],"spacing":35},
{"hconcat":[
{"width":1099,"height":976,"title":"t=\u00a0\u00a00.4",
"encoding":{"x":{"field":"x","type":"quantitative","scale":{"domain":[-5,5],"nice":false,"zero":false},"axis":{"values":[-5,0,5],"title":null,"labelExpr":"''+datum.value","labelPadding":32,"zindex":1}},"y":{"field":"y","type":"quantitative","stack":null,"scale":{"domain":[-5,5],"nice":false,"zero":false},"axis":{"values":[-5,-4,-3,-2,-1,0,1,2,3,4,5],"title":null,"labelExpr":"''+datum.value","labelPadding":26,"labelOffset":3,"zindex":1}}},
"layer":[
{"data":{"name":"p2_levels"},"mark":{"type":"area","orient":"vertical","clip":true,"interpolate":"catmull-rom","stroke":"black","strokeWidth":3},"encoding":{"y2":{"field":"y2"},"detail":{"field":"id"},"fill":{"field":"id","type":"nominal","legend":null,"scale":{"domain":["up","low","u1","d1","u2","d2","u3","d3","u4","d4","u5","d5"],"range":["#5cff46","#00ffb4","#ffff00","#00e4ff","#ff9800","#0080ff","#ff4000","#0010ff","#ff0000","#0000e8","#e00000","#0000b0"]}}}},
{"data":{"name":"p2_arcs"},"mark":{"type":"area","orient":"vertical","clip":true,"interpolate":"catmull-rom","fillOpacity":0,"stroke":"black","strokeWidth":3},"encoding":{"y2":{"field":"y2"},"detail":{"field":"id"}}},
{"data":{"values":[{"x":0,"y":-5,"y2":5}]},"mark":{"type":"rule","color":"black","strokeWidth":3},"encoding":{"y2":{"field":"y2"}}},
{"data":{"values":[{"x":0,"y":-2,"y2":2}]},"mark":{"type":"rule","color":"black","strokeWidth":14},"encoding":{"y2":{"field":"y2"}}},
{"data":{"name":"ticks"},"mark":{"type":"tick","orient":"horizontal","clip":true,"size":20,"thickness":3,"color":"#262626"},"encoding":{"x":{"datum":5}}},
{"data":{"values":[{"x":-5,"x2":5,"y":-5,"y2":5}]},"mark":{"type":"rect","fillOpacity":0,"stroke":"#262626","strokeWidth":3.5},"encoding":{"x2":{"field":"x2"},"y2":{"field":"y2"}}}
]},
{"width":58,"height":976,
"layer":[
{"data":{"name":"jet"},"mark":{"type":"rect","strokeWidth":1},"encoding":{"y":{"field":"i","type":"ordinal","sort":"descending","axis":null,"scale":{"paddingInner":0,"paddingOuter":0}},"fill":{"field":"i","type":"quantitative","legend":null,"scale":{"domain":[1,8,24,32,34,37,40,56,64],"range":["#000080","#0000ff","#00ffff","#00ff80","#5cff46","#a0ff00","#ffff00","#ff0000","#800000"],"interpolate":"rgb"}},"stroke":{"field":"i","type":"quantitative","legend":null,"scale":{"domain":[1,8,24,32,34,37,40,56,64],"range":["#000080","#0000ff","#00ffff","#00ff80","#5cff46","#a0ff00","#ffff00","#ff0000","#800000"],"interpolate":"rgb"}}}},
{"data":{"values":[{"v":0}]},"mark":{"type":"rect","fillOpacity":0,"stroke":"#262626","strokeWidth":3.5}},
{"data":{"values":[{"v":-2.5},{"v":2.5}]},"mark":{"type":"rule","opacity":0},"encoding":{"y":{"field":"v","type":"quantitative","scale":{"domain":[-2.81,2.5],"nice":false,"zero":false},"axis":{"orient":"right","values":[-2.5,-2,-1.5,-1,-0.5,0,0.5,1,1.5,2,2.5],"title":"potential function","titleAngle":270,"titlePadding":53,"labelExpr":"''+datum.value","labelPadding":27,"labelOffset":2,"zindex":1}}}}
],"resolve":{"scale":{"y":"independent"}}}
],"spacing":35}
],"spacing":296},
{"hconcat":[
{"width":1,"height":1,"data":{"values":[{"v":0}]},"mark":{"type":"rect","opacity":0}},
{"hconcat":[
{"width":1099,"height":976,"title":"t=\u00a0\u00a00.5",
"encoding":{"x":{"field":"x","type":"quantitative","scale":{"domain":[-5,5],"nice":false,"zero":false},"axis":{"values":[-5,0,5],"title":null,"labelExpr":"''+datum.value","labelPadding":32,"zindex":1}},"y":{"field":"y","type":"quantitative","stack":null,"scale":{"domain":[-5,5],"nice":false,"zero":false},"axis":{"values":[-5,-4,-3,-2,-1,0,1,2,3,4,5],"title":null,"labelExpr":"''+datum.value","labelPadding":26,"labelOffset":3,"zindex":1}}},
"layer":[
{"data":{"name":"p3_levels"},"mark":{"type":"area","orient":"vertical","clip":true,"interpolate":"catmull-rom","stroke":"black","strokeWidth":3},"encoding":{"y2":{"field":"y2"},"detail":{"field":"id"},"fill":{"field":"id","type":"nominal","legend":null,"scale":{"domain":["up","low","u1","d1","u2","d2","u3","d3","u4","d4"],"range":["#00ff66","#00ffdc","#e6ff00","#00b8ff","#ffaa00","#0058ff","#ff4800","#0000ff","#ff0a00","#0000c0"]}}}},
{"data":{"name":"p3_arcs"},"mark":{"type":"area","orient":"vertical","clip":true,"interpolate":"catmull-rom","fillOpacity":0,"stroke":"black","strokeWidth":3},"encoding":{"y2":{"field":"y2"},"detail":{"field":"id"}}},
{"data":{"values":[{"x":0,"y":-5,"y2":5}]},"mark":{"type":"rule","color":"black","strokeWidth":3},"encoding":{"y2":{"field":"y2"}}},
{"data":{"values":[{"x":0,"y":-2,"y2":2}]},"mark":{"type":"rule","color":"black","strokeWidth":12},"encoding":{"y2":{"field":"y2"}}},
{"data":{"name":"ticks"},"mark":{"type":"tick","orient":"horizontal","clip":true,"size":20,"thickness":3,"color":"#262626"},"encoding":{"x":{"datum":5}}},
{"data":{"values":[{"x":-5,"x2":5,"y":-5,"y2":5}]},"mark":{"type":"rect","fillOpacity":0,"stroke":"#262626","strokeWidth":3.5},"encoding":{"x2":{"field":"x2"},"y2":{"field":"y2"}}}
]},
{"width":58,"height":976,
"layer":[
{"data":{"name":"jet"},"mark":{"type":"rect","strokeWidth":1},"encoding":{"y":{"field":"i","type":"ordinal","sort":"descending","axis":null,"scale":{"paddingInner":0,"paddingOuter":0}},"fill":{"field":"i","type":"quantitative","legend":null,"scale":{"domain":[1,8,24,32,34,37,40,56,64],"range":["#000080","#0000ff","#00ffff","#00ff80","#5cff46","#a0ff00","#ffff00","#ff0000","#800000"],"interpolate":"rgb"}},"stroke":{"field":"i","type":"quantitative","legend":null,"scale":{"domain":[1,8,24,32,34,37,40,56,64],"range":["#000080","#0000ff","#00ffff","#00ff80","#5cff46","#a0ff00","#ffff00","#ff0000","#800000"],"interpolate":"rgb"}}}},
{"data":{"values":[{"v":0}]},"mark":{"type":"rect","fillOpacity":0,"stroke":"#262626","strokeWidth":3.5}},
{"data":{"values":[{"v":-2.5},{"v":2.5}]},"mark":{"type":"rule","opacity":0},"encoding":{"y":{"field":"v","type":"quantitative","scale":{"domain":[-2.55,2.5],"nice":false,"zero":false},"axis":{"orient":"right","values":[-2.5,-2,-1.5,-1,-0.5,0,0.5,1,1.5,2,2.5],"title":"potential function","titleAngle":270,"titlePadding":53,"labelExpr":"''+datum.value","labelPadding":27,"labelOffset":2,"zindex":1}}}}
],"resolve":{"scale":{"y":"independent"}}}
],"spacing":35}
],"spacing":737}
],"spacing":160
}
